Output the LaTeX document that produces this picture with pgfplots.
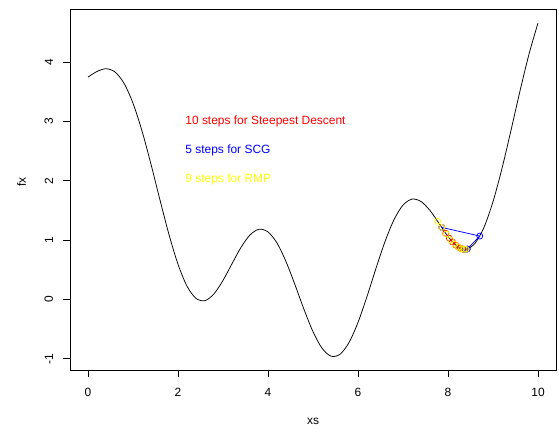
\documentclass[border=0pt]{standalone}
\usepackage{fontspec}
\setmainfont{Liberation Sans}
\usepackage{pgfplots}
\pgfplotsset{compat=1.18}
\definecolor{rred}{RGB}{255,0,0}
\definecolor{rblue}{RGB}{0,0,255}
\definecolor{ryellow}{RGB}{255,255,0}
\begin{document}
\begin{tikzpicture}[x=1bp,y=1bp]
\useasboundingbox (0,0) rectangle (559,432);
\begin{axis}[
  at={(70bp,62bp)}, anchor=south west,
  scale only axis, width=486bp, height=360.5bp,
  xmin=-0.4, xmax=10.4, ymin=-1.19, ymax=4.89,
  axis line style={line width=0.75bp, black},
  xtick={0,2,4,6,8,10}, ytick={-1,0,1,2,3,4},
  xticklabels={0,2,4,6,8,10}, yticklabels={-1,0,1,2,3,4},
  tick align=outside, major tick length=7.2bp,
  tick style={line width=0.75bp, black},
  xtick pos=left, ytick pos=left,
  xticklabel shift=11bp, yticklabel shift=9.5bp,
  xticklabel style={font=\fontsize{12}{14}\selectfont, inner sep=0pt, anchor=north},
  yticklabel style={font=\fontsize{12}{14}\selectfont, inner sep=0pt, rotate=90, anchor=south},
  clip=false,
]
\addplot[black, line width=0.75bp, smooth, tension=0.5] coordinates {
(0.0,3.750) (0.2,3.845) (0.4,3.891) (0.6,3.836) (0.8,3.646) (1.0,3.309)
(1.2,2.842) (1.4,2.279) (1.6,1.676) (1.8,1.094) (2.0,0.593) (2.2,0.224)
(2.4,0.018) (2.6,-0.020) (2.8,0.095) (3.0,0.321) (3.2,0.603) (3.4,0.878)
(3.6,1.088) (3.8,1.184) (4.0,1.139) (4.2,0.951) (4.4,0.639) (4.6,0.247)
(4.8,-0.168) (5.0,-0.544) (5.2,-0.822) (5.4,-0.957) (5.6,-0.925) (5.8,-0.727)
(6.0,-0.387) (6.2,0.050) (6.4,0.526) (6.6,0.976) (6.8,1.345) (7.0,1.591)
(7.2,1.692) (7.4,1.652) (7.6,1.500) (7.8,1.284) (8.0,1.062) (8.2,0.898)
(8.4,0.846) (8.6,0.947) (8.8,1.217) (9.0,1.649) (9.2,2.211) (9.4,2.854)
(9.6,3.517) (9.8,4.138) (10.0,4.663)
};
% Steepest descent
\addplot[only marks, mark=o, mark size=3bp, rred, mark options={line width=0.75bp}] coordinates {
(7.86,1.215) (7.95,1.115) (8.03,1.032) (8.10,0.969) (8.17,0.917)
(8.23,0.882) (8.28,0.861) (8.32,0.851) (8.35,0.846) (8.37,0.845)
};
% SCG
\addplot[rblue, line width=0.75bp, mark=o, mark size=3bp, mark options={line width=0.75bp}] coordinates {
(7.86,1.215) (8.706,1.069) (8.43,0.851) (8.40,0.846) (8.37,0.845)
};
% RMP
\addplot[only marks, mark=o, mark size=3bp, ryellow, mark options={line width=0.75bp}] coordinates {
(7.77,1.318) (7.86,1.215) (7.96,1.104) (8.06,1.004) (8.15,0.930)
(8.23,0.882) (8.30,0.855) (8.36,0.845) (8.40,0.846)
};
\node[anchor=west, inner sep=0pt, text=rred, font=\fontsize{12}{14}\selectfont] at (axis cs:2.16,3) {10 steps for Steepest Descent};
\node[anchor=west, inner sep=0pt, text=rblue, font=\fontsize{12}{14}\selectfont] at (axis cs:2.16,2.52) {5 steps for SCG};
\node[anchor=west, inner sep=0pt, text=ryellow, font=\fontsize{12}{14}\selectfont] at (axis cs:2.16,2.03) {9 steps for RMP};
\node[font=\fontsize{12}{14}\selectfont] at ([yshift=-51bp]rel axis cs:0.5,0) {xs};
\node[font=\fontsize{12}{14}\selectfont, rotate=90] at ([xshift=-48.5bp]rel axis cs:0,0.5215) {fx};
\end{axis}
\end{tikzpicture}
\end{document}
